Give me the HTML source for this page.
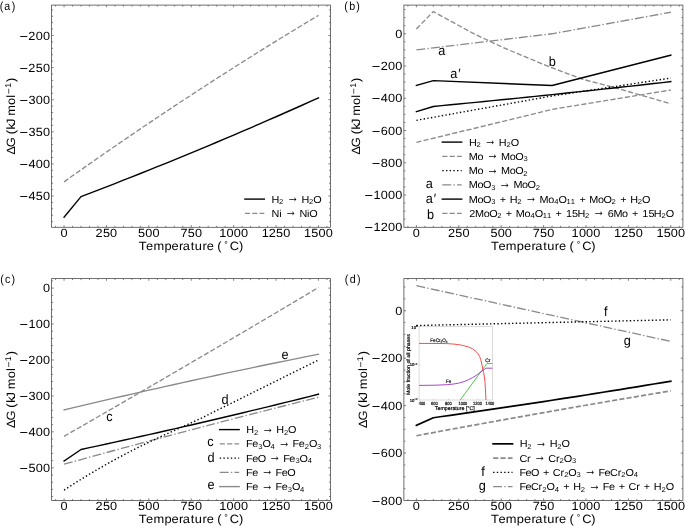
<!DOCTYPE html>
<html><head><meta charset="utf-8"><title>Gibbs free energy vs temperature</title>
<style>
html,body{margin:0;padding:0;background:#fff}
svg{display:block}
svg{will-change:transform}
svg text{font-family:"Liberation Sans",sans-serif;white-space:pre;text-rendering:geometricPrecision}
svg path,svg rect{fill:none}
</style></head>
<body>
<svg width="685" height="526" viewBox="0 0 685 526" xml:space="preserve">
<rect width="685" height="526" style="fill:#fff"/>
<path d="M55.57 227.3v-1.5M55.57 5.1v1.5M64.05 227.3v-2.2M64.05 5.1v2.2M72.53 227.3v-1.5M72.53 5.1v1.5M81.01 227.3v-1.5M81.01 5.1v1.5M89.49 227.3v-1.5M89.49 5.1v1.5M97.97 227.3v-1.5M97.97 5.1v1.5M106.45 227.3v-2.2M106.45 5.1v2.2M114.93 227.3v-1.5M114.93 5.1v1.5M123.41 227.3v-1.5M123.41 5.1v1.5M131.89 227.3v-1.5M131.89 5.1v1.5M140.37 227.3v-1.5M140.37 5.1v1.5M148.85 227.3v-2.2M148.85 5.1v2.2M157.33 227.3v-1.5M157.33 5.1v1.5M165.81 227.3v-1.5M165.81 5.1v1.5M174.29 227.3v-1.5M174.29 5.1v1.5M182.77 227.3v-1.5M182.77 5.1v1.5M191.25 227.3v-2.2M191.25 5.1v2.2M199.73 227.3v-1.5M199.73 5.1v1.5M208.21 227.3v-1.5M208.21 5.1v1.5M216.69 227.3v-1.5M216.69 5.1v1.5M225.17 227.3v-1.5M225.17 5.1v1.5M233.65 227.3v-2.2M233.65 5.1v2.2M242.13 227.3v-1.5M242.13 5.1v1.5M250.61 227.3v-1.5M250.61 5.1v1.5M259.09 227.3v-1.5M259.09 5.1v1.5M267.57 227.3v-1.5M267.57 5.1v1.5M276.05 227.3v-2.2M276.05 5.1v2.2M284.53 227.3v-1.5M284.53 5.1v1.5M293.01 227.3v-1.5M293.01 5.1v1.5M301.49 227.3v-1.5M301.49 5.1v1.5M309.97 227.3v-1.5M309.97 5.1v1.5M318.45 227.3v-2.2M318.45 5.1v2.2M326.93 227.3v-1.5M326.93 5.1v1.5M51.6 221.67h1.5M330.5 221.67h-1.5M51.6 215.25h1.5M330.5 215.25h-1.5M51.6 208.83h1.5M330.5 208.83h-1.5M51.6 202.41h1.5M330.5 202.41h-1.5M51.6 195.99h2.2M330.5 195.99h-2.2M51.6 189.57h1.5M330.5 189.57h-1.5M51.6 183.15h1.5M330.5 183.15h-1.5M51.6 176.73h1.5M330.5 176.73h-1.5M51.6 170.31h1.5M330.5 170.31h-1.5M51.6 163.89h2.2M330.5 163.89h-2.2M51.6 157.47h1.5M330.5 157.47h-1.5M51.6 151.05h1.5M330.5 151.05h-1.5M51.6 144.63h1.5M330.5 144.63h-1.5M51.6 138.21h1.5M330.5 138.21h-1.5M51.6 131.79h2.2M330.5 131.79h-2.2M51.6 125.37h1.5M330.5 125.37h-1.5M51.6 118.95h1.5M330.5 118.95h-1.5M51.6 112.53h1.5M330.5 112.53h-1.5M51.6 106.11h1.5M330.5 106.11h-1.5M51.6 99.69h2.2M330.5 99.69h-2.2M51.6 93.27h1.5M330.5 93.27h-1.5M51.6 86.85h1.5M330.5 86.85h-1.5M51.6 80.43h1.5M330.5 80.43h-1.5M51.6 74.01h1.5M330.5 74.01h-1.5M51.6 67.59h2.2M330.5 67.59h-2.2M51.6 61.17h1.5M330.5 61.17h-1.5M51.6 54.75h1.5M330.5 54.75h-1.5M51.6 48.33h1.5M330.5 48.33h-1.5M51.6 41.91h1.5M330.5 41.91h-1.5M51.6 35.49h2.2M330.5 35.49h-2.2M51.6 29.07h1.5M330.5 29.07h-1.5M51.6 22.65h1.5M330.5 22.65h-1.5M51.6 16.23h1.5M330.5 16.23h-1.5M51.6 9.81h1.5M330.5 9.81h-1.5" stroke="#4d4d4d" stroke-width="0.7"/>
<rect x="51.6" y="5.1" width="278.9" height="222.2" stroke="#4d4d4d" stroke-width="0.8"/>
<text transform="translate(64.05 237.1) scale(1.07 1)" font-size="11.87"><tspan x="-3.3" y="0">0</tspan></text>
<text transform="translate(106.45 237.1) scale(1.07 1)" font-size="11.87"><tspan x="-10.16 -3.34 3.42" y="0">250</tspan></text>
<text transform="translate(148.85 237.1) scale(1.07 1)" font-size="11.87"><tspan x="-10.06 -3.3 3.42" y="0">500</tspan></text>
<text transform="translate(191.25 237.1) scale(1.07 1)" font-size="11.87"><tspan x="-10.04 -3.34 3.42" y="0">750</tspan></text>
<text transform="translate(233.65 237.1) scale(1.07 1)" font-size="11.87"><tspan x="-13.45 -6.66 0.06 6.78" y="0">1000</tspan></text>
<text transform="translate(276.05 237.1) scale(1.07 1)" font-size="11.87"><tspan x="-13.45 -6.8 0.02 6.78" y="0">1250</tspan></text>
<text transform="translate(318.45 237.1) scale(1.07 1)" font-size="11.87"><tspan x="-13.45 -6.7 0.06 6.78" y="0">1500</tspan></text>
<text transform="translate(50 39.54) scale(1.07 1)" font-size="11.87"><tspan x="-28.56" y="0.98" font-size="13.61">−</tspan><tspan x="-20.24 -13.38 -6.66" y="0">200</tspan></text>
<text transform="translate(50 71.64) scale(1.07 1)" font-size="11.87"><tspan x="-28.56" y="0.98" font-size="13.61">−</tspan><tspan x="-20.24 -13.42 -6.66" y="0">250</tspan></text>
<text transform="translate(50 103.74) scale(1.07 1)" font-size="11.87"><tspan x="-28.56" y="0.98" font-size="13.61">−</tspan><tspan x="-20.08 -13.38 -6.66" y="0">300</tspan></text>
<text transform="translate(50 135.84) scale(1.07 1)" font-size="11.87"><tspan x="-28.56" y="0.98" font-size="13.61">−</tspan><tspan x="-20.08 -13.42 -6.66" y="0">350</tspan></text>
<text transform="translate(50 167.94) scale(1.07 1)" font-size="11.87"><tspan x="-28.56" y="0.98" font-size="13.61">−</tspan><tspan x="-20.1 -13.38 -6.66" y="0">400</tspan></text>
<text transform="translate(50 200.04) scale(1.07 1)" font-size="11.87"><tspan x="-28.56" y="0.98" font-size="13.61">−</tspan><tspan x="-20.1 -13.42 -6.66" y="0">450</tspan></text>
<text transform="translate(191.05 249.5) scale(1.07 1)" font-size="12.02"><tspan x="-48.93 -42.02 -35.18 -24.88 -18.22 -11.23 -7.7 -0.26 3.57 10.71 14.69 21.31 24.49" y="0">Temperature (</tspan><tspan x="31.14" y="-2.28" font-size="8.27">°</tspan><tspan x="36.21 44.75" y="0">C)</tspan></text>
<text transform="translate(15.3 116.2) rotate(-90) scale(1.07 1)" font-size="12.02"><tspan x="-36.1 -28.95 -20.14 -16.96 -12.41 -8.24 -3.21 0.43 10.55 17.32" y="0">ΔG (kJ mol</tspan><tspan x="20.56" y="-3.69" font-size="9.65">−</tspan><tspan x="26.51" y="-4.38" font-size="8.42">1</tspan><tspan x="31.97" y="0">)</tspan></text>
<path d="M64.05 181.84 L72.53 175.82 L81.01 169.84 L89.49 163.9 L97.97 157.98 L106.45 152.1 L114.93 146.24 L123.41 140.42 L131.89 134.64 L140.37 128.88 L148.85 123.15 L157.33 117.46 L165.81 111.8 L174.29 106.17 L182.77 100.57 L191.25 95.01 L199.73 89.48 L208.21 83.97 L216.69 78.5 L225.17 73.07 L233.65 67.66 L242.13 62.29 L250.61 56.95 L259.09 51.63 L267.57 46.36 L276.05 41.11 L284.53 35.9 L293.01 30.71 L301.49 25.56 L309.97 20.44 L318.45 15.36" stroke="#8a8a8a" stroke-width="1.32" stroke-linecap="butt" stroke-linejoin="round" stroke-dasharray="5.14 2.22"/>
<path d="M64.05 217.17 L81.01 196.61 L89.49 193.38 L97.97 190.12 L106.45 186.84 L114.93 183.54 L123.41 180.22 L131.89 176.87 L140.37 173.51 L148.85 170.12 L157.33 166.71 L165.81 163.28 L174.29 159.83 L182.77 156.36 L191.25 152.86 L199.73 149.35 L208.21 145.81 L216.69 142.25 L225.17 138.67 L233.65 135.07 L242.13 131.45 L250.61 127.81 L259.09 124.14 L267.57 120.45 L276.05 116.74 L284.53 113.01 L293.01 109.26 L301.49 105.49 L309.97 101.69 L318.45 97.88" stroke="#000" stroke-width="1.4" stroke-linecap="square" stroke-linejoin="round"/>
<path d="M244.9 199.1 L264.3 199.1" stroke="#000" stroke-width="1.4" stroke-linecap="square" stroke-linejoin="round"/>
<g><text transform="translate(271.8 202.55) scale(1.07 1)" font-size="10.15"><tspan x="-0.27" y="0">H</tspan><tspan x="6.83" y="1.59" font-size="7.11">2</tspan><tspan x="11.15 25.12 27.72" y="0">  H</tspan><tspan x="34.83" y="1.59" font-size="7.11">2</tspan><tspan x="38.76" y="0">O</tspan></text><text transform="translate(286.8 202.21) scale(1.24 1.68)" font-size="9.67">→</text></g>
<path d="M244.9 213.35 L264.3 213.35" stroke="#8a8a8a" stroke-width="1.4" stroke-linecap="butt" stroke-linejoin="round" stroke-dasharray="5.14 2.22"/>
<g><text transform="translate(271.8 216.8) scale(1.07 1)" font-size="10.15"><tspan x="-0.29 6.89 9.27 23.24 25.82 33 34.99" y="0">Ni  NiO</tspan></text><text transform="translate(284.79 216.46) scale(1.24 1.68)" font-size="9.67">→</text></g>
<path d="M407.92 227.3v-1.5M407.92 5.1v1.5M416.4 227.3v-2.2M416.4 5.1v2.2M424.88 227.3v-1.5M424.88 5.1v1.5M433.36 227.3v-1.5M433.36 5.1v1.5M441.84 227.3v-1.5M441.84 5.1v1.5M450.32 227.3v-1.5M450.32 5.1v1.5M458.8 227.3v-2.2M458.8 5.1v2.2M467.28 227.3v-1.5M467.28 5.1v1.5M475.76 227.3v-1.5M475.76 5.1v1.5M484.24 227.3v-1.5M484.24 5.1v1.5M492.72 227.3v-1.5M492.72 5.1v1.5M501.2 227.3v-2.2M501.2 5.1v2.2M509.68 227.3v-1.5M509.68 5.1v1.5M518.16 227.3v-1.5M518.16 5.1v1.5M526.64 227.3v-1.5M526.64 5.1v1.5M535.12 227.3v-1.5M535.12 5.1v1.5M543.6 227.3v-2.2M543.6 5.1v2.2M552.08 227.3v-1.5M552.08 5.1v1.5M560.56 227.3v-1.5M560.56 5.1v1.5M569.04 227.3v-1.5M569.04 5.1v1.5M577.52 227.3v-1.5M577.52 5.1v1.5M586 227.3v-2.2M586 5.1v2.2M594.48 227.3v-1.5M594.48 5.1v1.5M602.96 227.3v-1.5M602.96 5.1v1.5M611.44 227.3v-1.5M611.44 5.1v1.5M619.92 227.3v-1.5M619.92 5.1v1.5M628.4 227.3v-2.2M628.4 5.1v2.2M636.88 227.3v-1.5M636.88 5.1v1.5M645.36 227.3v-1.5M645.36 5.1v1.5M653.84 227.3v-1.5M653.84 5.1v1.5M662.32 227.3v-1.5M662.32 5.1v1.5M670.8 227.3v-2.2M670.8 5.1v2.2M679.28 227.3v-1.5M679.28 5.1v1.5M403.9 219.23h1.5M682.9 219.23h-1.5M403.9 211.16h1.5M682.9 211.16h-1.5M403.9 203.1h1.5M682.9 203.1h-1.5M403.9 195.03h2.2M682.9 195.03h-2.2M403.9 186.96h1.5M682.9 186.96h-1.5M403.9 178.9h1.5M682.9 178.9h-1.5M403.9 170.83h1.5M682.9 170.83h-1.5M403.9 162.76h2.2M682.9 162.76h-2.2M403.9 154.7h1.5M682.9 154.7h-1.5M403.9 146.63h1.5M682.9 146.63h-1.5M403.9 138.56h1.5M682.9 138.56h-1.5M403.9 130.5h2.2M682.9 130.5h-2.2M403.9 122.43h1.5M682.9 122.43h-1.5M403.9 114.37h1.5M682.9 114.37h-1.5M403.9 106.3h1.5M682.9 106.3h-1.5M403.9 98.23h2.2M682.9 98.23h-2.2M403.9 90.17h1.5M682.9 90.17h-1.5M403.9 82.1h1.5M682.9 82.1h-1.5M403.9 74.03h1.5M682.9 74.03h-1.5M403.9 65.97h2.2M682.9 65.97h-2.2M403.9 57.9h1.5M682.9 57.9h-1.5M403.9 49.83h1.5M682.9 49.83h-1.5M403.9 41.77h1.5M682.9 41.77h-1.5M403.9 33.7h2.2M682.9 33.7h-2.2M403.9 25.63h1.5M682.9 25.63h-1.5M403.9 17.57h1.5M682.9 17.57h-1.5M403.9 9.5h1.5M682.9 9.5h-1.5" stroke="#4d4d4d" stroke-width="0.7"/>
<rect x="403.9" y="5.1" width="279" height="222.2" stroke="#4d4d4d" stroke-width="0.8"/>
<text transform="translate(416.4 237.1) scale(1.07 1)" font-size="11.87"><tspan x="-3.3" y="0">0</tspan></text>
<text transform="translate(458.8 237.1) scale(1.07 1)" font-size="11.87"><tspan x="-10.16 -3.34 3.42" y="0">250</tspan></text>
<text transform="translate(501.2 237.1) scale(1.07 1)" font-size="11.87"><tspan x="-10.06 -3.3 3.42" y="0">500</tspan></text>
<text transform="translate(543.6 237.1) scale(1.07 1)" font-size="11.87"><tspan x="-10.04 -3.34 3.42" y="0">750</tspan></text>
<text transform="translate(586 237.1) scale(1.07 1)" font-size="11.87"><tspan x="-13.45 -6.66 0.06 6.78" y="0">1000</tspan></text>
<text transform="translate(628.4 237.1) scale(1.07 1)" font-size="11.87"><tspan x="-13.45 -6.8 0.02 6.78" y="0">1250</tspan></text>
<text transform="translate(670.8 237.1) scale(1.07 1)" font-size="11.87"><tspan x="-13.45 -6.7 0.06 6.78" y="0">1500</tspan></text>
<text transform="translate(402.3 37.75) scale(1.07 1)" font-size="11.87"><tspan x="-6.66" y="0">0</tspan></text>
<text transform="translate(402.3 70.02) scale(1.07 1)" font-size="11.87"><tspan x="-28.56" y="0.98" font-size="13.61">−</tspan><tspan x="-20.24 -13.38 -6.66" y="0">200</tspan></text>
<text transform="translate(402.3 102.28) scale(1.07 1)" font-size="11.87"><tspan x="-28.56" y="0.98" font-size="13.61">−</tspan><tspan x="-20.1 -13.38 -6.66" y="0">400</tspan></text>
<text transform="translate(402.3 134.55) scale(1.07 1)" font-size="11.87"><tspan x="-28.56" y="0.98" font-size="13.61">−</tspan><tspan x="-20.1 -13.38 -6.66" y="0">600</tspan></text>
<text transform="translate(402.3 166.81) scale(1.07 1)" font-size="11.87"><tspan x="-28.56" y="0.98" font-size="13.61">−</tspan><tspan x="-20.1 -13.38 -6.66" y="0">800</tspan></text>
<text transform="translate(402.3 199.08) scale(1.07 1)" font-size="11.87"><tspan x="-35.28" y="0.98" font-size="13.61">−</tspan><tspan x="-26.89 -20.1 -13.38 -6.66" y="0">1000</tspan></text>
<text transform="translate(402.3 231.35) scale(1.07 1)" font-size="11.87"><tspan x="-35.28" y="0.98" font-size="13.61">−</tspan><tspan x="-26.89 -20.24 -13.38 -6.66" y="0">1200</tspan></text>
<text transform="translate(543.4 249.5) scale(1.07 1)" font-size="12.02"><tspan x="-48.93 -42.02 -35.18 -24.88 -18.22 -11.23 -7.7 -0.26 3.57 10.71 14.69 21.31 24.49" y="0">Temperature (</tspan><tspan x="31.14" y="-2.28" font-size="8.27">°</tspan><tspan x="36.21 44.75" y="0">C)</tspan></text>
<text transform="translate(360.3 116.2) rotate(-90) scale(1.07 1)" font-size="12.02"><tspan x="-36.1 -28.95 -20.14 -16.96 -12.41 -8.24 -3.21 0.43 10.55 17.32" y="0">ΔG (kJ mol</tspan><tspan x="20.56" y="-3.69" font-size="9.65">−</tspan><tspan x="26.51" y="-4.38" font-size="8.42">1</tspan><tspan x="31.97" y="0">)</tspan></text>
<path d="M416.4 142.44 L552.08 109.36 L670.8 90" stroke="#8a8a8a" stroke-width="1.32" stroke-linecap="butt" stroke-linejoin="round" stroke-dasharray="5.14 2.22"/>
<path d="M416.4 49.91 L552.08 33.78 L670.8 12.24" stroke="#8a8a8a" stroke-width="1.32" stroke-linecap="butt" stroke-linejoin="round" stroke-dasharray="8.9 2.22 1.39 2.22"/>
<path d="M416.4 28.92 L433.36 11.57 L444.55 17.76 L459.14 25.76 L473.72 33.7 L489.84 41.25 L503.07 47.49 L517.65 53.7 L530.03 58.79 L549.2 66.77 L582.78 79.28 L614.15 87.5 L640.44 95.01 L670.8 103.72" stroke="#8a8a8a" stroke-width="1.32" stroke-linecap="butt" stroke-linejoin="round" stroke-dasharray="5.14 2.22"/>
<path d="M416.4 120.33 L552.08 95.97 L670.8 78.07" stroke="#000" stroke-width="1.4" stroke-linecap="butt" stroke-linejoin="round" stroke-dasharray="1.39 2.29"/>
<path d="M416.4 111.62 L433.36 106.46 L441.84 105.64 L450.32 104.82 L458.8 104 L467.28 103.17 L475.76 102.34 L484.24 101.5 L492.72 100.65 L501.2 99.8 L509.68 98.94 L518.16 98.08 L526.64 97.21 L535.12 96.34 L543.6 95.46 L552.08 94.58 L560.56 93.69 L569.04 92.8 L577.52 91.9 L586 90.99 L594.48 90.08 L602.96 89.16 L611.44 88.24 L619.92 87.32 L628.4 86.39 L636.88 85.45 L645.36 84.51 L653.84 83.56 L662.32 82.6 L670.8 81.64" stroke="#000" stroke-width="1.4" stroke-linecap="square" stroke-linejoin="round"/>
<path d="M416.4 85.41 L433.36 80.65 L552.08 85.49 L670.8 55.16" stroke="#000" stroke-width="1.4" stroke-linecap="square" stroke-linejoin="round"/>
<path d="M442.3 142.1 L461.7 142.1" stroke="#000" stroke-width="1.4" stroke-linecap="square" stroke-linejoin="round"/>
<g><text transform="translate(469.2 145.55) scale(1.07 1)" font-size="10.15"><tspan x="-0.27" y="0">H</tspan><tspan x="6.83" y="1.59" font-size="7.11">2</tspan><tspan x="11.15 25.12 27.72" y="0">  H</tspan><tspan x="34.83" y="1.59" font-size="7.11">2</tspan><tspan x="38.76" y="0">O</tspan></text><text transform="translate(484.21 145.21) scale(1.24 1.68)" font-size="9.67">→</text></g>
<path d="M442.3 156.35 L461.7 156.35" stroke="#8a8a8a" stroke-width="1.4" stroke-linecap="butt" stroke-linejoin="round" stroke-dasharray="5.14 2.22"/>
<g><text transform="translate(469.2 159.8) scale(1.07 1)" font-size="10.15"><tspan x="-0.33 7.74 13.33 27.29 29.84 37.91 43.1" y="0">Mo  MoO</tspan><tspan x="50.74" y="1.59" font-size="7.11">3</tspan></text><text transform="translate(486.53 159.46) scale(1.24 1.68)" font-size="9.67">→</text></g>
<path d="M442.3 170.6 L461.7 170.6" stroke="#000" stroke-width="1.4" stroke-linecap="butt" stroke-linejoin="round" stroke-dasharray="1.39 2.29"/>
<g><text transform="translate(469.2 174.05) scale(1.07 1)" font-size="10.15"><tspan x="-0.33 7.74 13.33 27.29 29.84 37.91 43.1" y="0">Mo  MoO</tspan><tspan x="50.64" y="1.59" font-size="7.11">2</tspan></text><text transform="translate(486.53 173.71) scale(1.24 1.68)" font-size="9.67">→</text></g>
<path d="M442.3 184.85 L461.7 184.85" stroke="#8a8a8a" stroke-width="1.4" stroke-linecap="butt" stroke-linejoin="round" stroke-dasharray="8.9 2.22 1.39 2.22"/>
<g><text transform="translate(469.2 188.3) scale(1.07 1)" font-size="10.15"><tspan x="-0.33 7.74 12.94" y="0">MoO</tspan><tspan x="20.57" y="1.59" font-size="7.11">3</tspan><tspan x="24.8 38.76 41.31 49.38 54.57" y="0">  MoO</tspan><tspan x="62.12" y="1.59" font-size="7.11">2</tspan></text><text transform="translate(498.81 187.96) scale(1.24 1.68)" font-size="9.67">→</text></g>
<path d="M442.3 199.1 L461.7 199.1" stroke="#000" stroke-width="1.4" stroke-linecap="square" stroke-linejoin="round"/>
<g><text transform="translate(469.2 202.55) scale(1.07 1)" font-size="10.15"><tspan x="-0.33 7.74 12.94" y="0">MoO</tspan><tspan x="20.57" y="1.59" font-size="7.11">3</tspan><tspan x="24.8 28.5 35.24 37.85" y="0"> + H</tspan><tspan x="44.95" y="1.59" font-size="7.11">2</tspan><tspan x="49.27 63.24 65.78 73.85" y="0">  Mo</tspan><tspan x="79.56" y="1.59" font-size="7.11">4</tspan><tspan x="83.41" y="0">O</tspan><tspan x="90.99 95.01" y="1.59" font-size="7.11">11</tspan><tspan x="99.29 102.99 109.74 112.28 120.35 125.55" y="0"> + MoO</tspan><tspan x="133.09" y="1.59" font-size="7.11">2</tspan><tspan x="137.41 141.1 147.85 150.45" y="0"> + H</tspan><tspan x="157.56" y="1.59" font-size="7.11">2</tspan><tspan x="161.49" y="0">O</tspan></text><text transform="translate(524.99 202.21) scale(1.24 1.68)" font-size="9.67">→</text></g>
<path d="M442.3 213.35 L461.7 213.35" stroke="#8a8a8a" stroke-width="1.4" stroke-linecap="butt" stroke-linejoin="round" stroke-dasharray="5.14 2.22"/>
<g><text transform="translate(469.2 216.8) scale(1.07 1)" font-size="10.15"><tspan x="-0.07 5.42 13.49 18.69" y="0">2MoO</tspan><tspan x="26.23" y="1.59" font-size="7.11">2</tspan><tspan x="30.55 34.25 40.99 43.54 51.61" y="0"> + Mo</tspan><tspan x="57.31" y="1.59" font-size="7.11">4</tspan><tspan x="61.16" y="0">O</tspan><tspan x="68.75 72.77" y="1.59" font-size="7.11">11</tspan><tspan x="77.05 80.74 87.49 90.36 96.13 101.14" y="0"> + 15H</tspan><tspan x="108.25" y="1.59" font-size="7.11">2</tspan><tspan x="112.57 126.53 129.45 134.83 142.9 148.48 152.18 158.93 161.79 167.57 172.58" y="0">  6Mo + 15H</tspan><tspan x="179.68" y="1.59" font-size="7.11">2</tspan><tspan x="183.61" y="0">O</tspan></text><text transform="translate(592.72 216.46) scale(1.24 1.68)" font-size="9.67">→</text></g>
<path d="M55.57 500.55v-1.5M55.57 278.6v1.5M64.05 500.55v-2.2M64.05 278.6v2.2M72.53 500.55v-1.5M72.53 278.6v1.5M81.01 500.55v-1.5M81.01 278.6v1.5M89.49 500.55v-1.5M89.49 278.6v1.5M97.97 500.55v-1.5M97.97 278.6v1.5M106.45 500.55v-2.2M106.45 278.6v2.2M114.93 500.55v-1.5M114.93 278.6v1.5M123.41 500.55v-1.5M123.41 278.6v1.5M131.89 500.55v-1.5M131.89 278.6v1.5M140.37 500.55v-1.5M140.37 278.6v1.5M148.85 500.55v-2.2M148.85 278.6v2.2M157.33 500.55v-1.5M157.33 278.6v1.5M165.81 500.55v-1.5M165.81 278.6v1.5M174.29 500.55v-1.5M174.29 278.6v1.5M182.77 500.55v-1.5M182.77 278.6v1.5M191.25 500.55v-2.2M191.25 278.6v2.2M199.73 500.55v-1.5M199.73 278.6v1.5M208.21 500.55v-1.5M208.21 278.6v1.5M216.69 500.55v-1.5M216.69 278.6v1.5M225.17 500.55v-1.5M225.17 278.6v1.5M233.65 500.55v-2.2M233.65 278.6v2.2M242.13 500.55v-1.5M242.13 278.6v1.5M250.61 500.55v-1.5M250.61 278.6v1.5M259.09 500.55v-1.5M259.09 278.6v1.5M267.57 500.55v-1.5M267.57 278.6v1.5M276.05 500.55v-2.2M276.05 278.6v2.2M284.53 500.55v-1.5M284.53 278.6v1.5M293.01 500.55v-1.5M293.01 278.6v1.5M301.49 500.55v-1.5M301.49 278.6v1.5M309.97 500.55v-1.5M309.97 278.6v1.5M318.45 500.55v-2.2M318.45 278.6v2.2M326.93 500.55v-1.5M326.93 278.6v1.5M51.6 496.55h1.5M330.5 496.55h-1.5M51.6 489.36h1.5M330.5 489.36h-1.5M51.6 482.18h1.5M330.5 482.18h-1.5M51.6 474.99h1.5M330.5 474.99h-1.5M51.6 467.8h2.2M330.5 467.8h-2.2M51.6 460.61h1.5M330.5 460.61h-1.5M51.6 453.42h1.5M330.5 453.42h-1.5M51.6 446.24h1.5M330.5 446.24h-1.5M51.6 439.05h1.5M330.5 439.05h-1.5M51.6 431.86h2.2M330.5 431.86h-2.2M51.6 424.67h1.5M330.5 424.67h-1.5M51.6 417.48h1.5M330.5 417.48h-1.5M51.6 410.3h1.5M330.5 410.3h-1.5M51.6 403.11h1.5M330.5 403.11h-1.5M51.6 395.92h2.2M330.5 395.92h-2.2M51.6 388.73h1.5M330.5 388.73h-1.5M51.6 381.54h1.5M330.5 381.54h-1.5M51.6 374.36h1.5M330.5 374.36h-1.5M51.6 367.17h1.5M330.5 367.17h-1.5M51.6 359.98h2.2M330.5 359.98h-2.2M51.6 352.79h1.5M330.5 352.79h-1.5M51.6 345.6h1.5M330.5 345.6h-1.5M51.6 338.42h1.5M330.5 338.42h-1.5M51.6 331.23h1.5M330.5 331.23h-1.5M51.6 324.04h2.2M330.5 324.04h-2.2M51.6 316.85h1.5M330.5 316.85h-1.5M51.6 309.66h1.5M330.5 309.66h-1.5M51.6 302.48h1.5M330.5 302.48h-1.5M51.6 295.29h1.5M330.5 295.29h-1.5M51.6 288.1h2.2M330.5 288.1h-2.2M51.6 280.91h1.5M330.5 280.91h-1.5" stroke="#4d4d4d" stroke-width="0.7"/>
<rect x="51.6" y="278.6" width="278.9" height="221.95" stroke="#4d4d4d" stroke-width="0.8"/>
<text transform="translate(64.05 510.35) scale(1.07 1)" font-size="11.87"><tspan x="-3.3" y="0">0</tspan></text>
<text transform="translate(106.45 510.35) scale(1.07 1)" font-size="11.87"><tspan x="-10.16 -3.34 3.42" y="0">250</tspan></text>
<text transform="translate(148.85 510.35) scale(1.07 1)" font-size="11.87"><tspan x="-10.06 -3.3 3.42" y="0">500</tspan></text>
<text transform="translate(191.25 510.35) scale(1.07 1)" font-size="11.87"><tspan x="-10.04 -3.34 3.42" y="0">750</tspan></text>
<text transform="translate(233.65 510.35) scale(1.07 1)" font-size="11.87"><tspan x="-13.45 -6.66 0.06 6.78" y="0">1000</tspan></text>
<text transform="translate(276.05 510.35) scale(1.07 1)" font-size="11.87"><tspan x="-13.45 -6.8 0.02 6.78" y="0">1250</tspan></text>
<text transform="translate(318.45 510.35) scale(1.07 1)" font-size="11.87"><tspan x="-13.45 -6.7 0.06 6.78" y="0">1500</tspan></text>
<text transform="translate(50 292.15) scale(1.07 1)" font-size="11.87"><tspan x="-6.66" y="0">0</tspan></text>
<text transform="translate(50 328.09) scale(1.07 1)" font-size="11.87"><tspan x="-28.56" y="0.98" font-size="13.61">−</tspan><tspan x="-20.17 -13.38 -6.66" y="0">100</tspan></text>
<text transform="translate(50 364.03) scale(1.07 1)" font-size="11.87"><tspan x="-28.56" y="0.98" font-size="13.61">−</tspan><tspan x="-20.24 -13.38 -6.66" y="0">200</tspan></text>
<text transform="translate(50 399.97) scale(1.07 1)" font-size="11.87"><tspan x="-28.56" y="0.98" font-size="13.61">−</tspan><tspan x="-20.08 -13.38 -6.66" y="0">300</tspan></text>
<text transform="translate(50 435.91) scale(1.07 1)" font-size="11.87"><tspan x="-28.56" y="0.98" font-size="13.61">−</tspan><tspan x="-20.1 -13.38 -6.66" y="0">400</tspan></text>
<text transform="translate(50 471.85) scale(1.07 1)" font-size="11.87"><tspan x="-28.56" y="0.98" font-size="13.61">−</tspan><tspan x="-20.14 -13.38 -6.66" y="0">500</tspan></text>
<text transform="translate(191.05 522.75) scale(1.07 1)" font-size="12.02"><tspan x="-48.93 -42.02 -35.18 -24.88 -18.22 -11.23 -7.7 -0.26 3.57 10.71 14.69 21.31 24.49" y="0">Temperature (</tspan><tspan x="31.14" y="-2.28" font-size="8.27">°</tspan><tspan x="36.21 44.75" y="0">C)</tspan></text>
<text transform="translate(15.3 389.58) rotate(-90) scale(1.07 1)" font-size="12.02"><tspan x="-36.1 -28.95 -20.14 -16.96 -12.41 -8.24 -3.21 0.43 10.55 17.32" y="0">ΔG (kJ mol</tspan><tspan x="20.56" y="-3.69" font-size="9.65">−</tspan><tspan x="26.51" y="-4.38" font-size="8.42">1</tspan><tspan x="31.97" y="0">)</tspan></text>
<path d="M64.05 436.31 L72.53 431.44 L81.01 426.57 L89.49 421.68 L97.97 416.8 L106.45 411.9 L114.93 407 L123.41 402.09 L131.89 397.18 L140.37 392.26 L148.85 387.34 L157.33 382.4 L165.81 377.47 L174.29 372.52 L182.77 367.57 L191.25 362.61 L199.73 357.65 L208.21 352.68 L216.69 347.7 L225.17 342.72 L233.65 337.73 L242.13 332.74 L250.61 327.74 L259.09 322.73 L267.57 317.72 L276.05 312.7 L284.53 307.67 L293.01 302.64 L301.49 297.6 L309.97 292.55 L318.45 287.5" stroke="#8a8a8a" stroke-width="1.32" stroke-linecap="butt" stroke-linejoin="round" stroke-dasharray="5.14 2.22"/>
<path d="M64.05 464.21 L72.53 461.86 L81.01 459.53 L89.49 457.2 L97.97 454.88 L106.45 452.56 L114.93 450.26 L123.41 447.96 L131.89 445.67 L140.37 443.39 L148.85 441.11 L157.33 438.85 L165.81 436.59 L174.29 434.33 L182.77 432.09 L191.25 429.85 L199.73 427.62 L208.21 425.4 L216.69 423.19 L225.17 420.98 L233.65 418.78 L242.13 416.59 L250.61 414.41 L259.09 412.23 L267.57 410.06 L276.05 407.9 L284.53 405.75 L293.01 403.6 L301.49 401.47 L309.97 399.34 L318.45 397.21" stroke="#8a8a8a" stroke-width="1.32" stroke-linecap="butt" stroke-linejoin="round" stroke-dasharray="8.9 2.22 1.39 2.22"/>
<path d="M64.05 409.93 L72.53 407.91 L81.01 405.89 L89.49 403.89 L97.97 401.89 L106.45 399.91 L114.93 397.95 L123.41 395.99 L131.89 394.04 L140.37 392.11 L148.85 390.19 L157.33 388.28 L165.81 386.38 L174.29 384.49 L182.77 382.62 L191.25 380.75 L199.73 378.9 L208.21 377.06 L216.69 375.24 L225.17 373.42 L233.65 371.61 L242.13 369.82 L250.61 368.04 L259.09 366.27 L267.57 364.51 L276.05 362.77 L284.53 361.03 L293.01 359.31 L301.49 357.6 L309.97 355.9 L318.45 354.21" stroke="#8a8a8a" stroke-width="1.32" stroke-linecap="square" stroke-linejoin="round"/>
<path d="M64.05 490.08 L72.53 484.63 L81.01 479.33 L89.49 474.18 L97.97 469.17 L106.45 464.31 L114.93 459.6 L123.41 455.04 L131.89 450.62 L140.37 446.35 L148.85 442.23 L157.33 438.26 L160.72 436.71 L199.73 418.92 L318.45 359.98" stroke="#000" stroke-width="1.4" stroke-linecap="butt" stroke-linejoin="round" stroke-dasharray="1.39 2.29"/>
<path d="M64.05 460.97 L81.01 449.46 L89.49 447.65 L97.97 445.83 L106.45 443.99 L114.93 442.14 L123.41 440.28 L131.89 438.41 L140.37 436.53 L148.85 434.63 L157.33 432.72 L165.81 430.8 L174.29 428.87 L182.77 426.93 L191.25 424.97 L199.73 423 L208.21 421.02 L216.69 419.03 L225.17 417.03 L233.65 415.01 L242.13 412.98 L250.61 410.94 L259.09 408.89 L267.57 406.83 L276.05 404.75 L284.53 402.66 L293.01 400.56 L301.49 398.45 L309.97 396.32 L318.45 394.19" stroke="#000" stroke-width="1.4" stroke-linecap="square" stroke-linejoin="round"/>
<path d="M219.75 429.6 L239.15 429.6" stroke="#000" stroke-width="1.4" stroke-linecap="square" stroke-linejoin="round"/>
<g><text transform="translate(246.65 433.05) scale(1.07 1)" font-size="10.15"><tspan x="-0.27" y="0">H</tspan><tspan x="6.83" y="1.59" font-size="7.11">2</tspan><tspan x="11.15 25.12 27.72" y="0">  H</tspan><tspan x="34.83" y="1.59" font-size="7.11">2</tspan><tspan x="38.76" y="0">O</tspan></text><text transform="translate(261.65 432.71) scale(1.24 1.68)" font-size="9.67">→</text></g>
<path d="M219.75 443.85 L239.15 443.85" stroke="#8a8a8a" stroke-width="1.4" stroke-linecap="butt" stroke-linejoin="round" stroke-dasharray="5.14 2.22"/>
<g><text transform="translate(246.65 447.3) scale(1.07 1)" font-size="10.15"><tspan x="-0.53 5.17" y="0">Fe</tspan><tspan x="10.89" y="1.59" font-size="7.11">3</tspan><tspan x="14.73" y="0">O</tspan><tspan x="22.35" y="1.59" font-size="7.11">4</tspan><tspan x="26.59 40.56 42.89 48.6" y="0">  Fe</tspan><tspan x="54.22" y="1.59" font-size="7.11">2</tspan><tspan x="58.16" y="0">O</tspan><tspan x="65.79" y="1.59" font-size="7.11">3</tspan></text><text transform="translate(278.17 446.96) scale(1.24 1.68)" font-size="9.67">→</text></g>
<path d="M219.75 458.1 L239.15 458.1" stroke="#000" stroke-width="1.4" stroke-linecap="butt" stroke-linejoin="round" stroke-dasharray="1.39 2.29"/>
<g><text transform="translate(246.65 461.55) scale(1.07 1)" font-size="10.15"><tspan x="-0.53 5.17 10.37 17.87 31.84 34.18 39.88" y="0">FeO  Fe</tspan><tspan x="45.6" y="1.59" font-size="7.11">3</tspan><tspan x="49.44" y="0">O</tspan><tspan x="57.06" y="1.59" font-size="7.11">4</tspan></text><text transform="translate(268.84 461.21) scale(1.24 1.68)" font-size="9.67">→</text></g>
<path d="M219.75 472.35 L239.15 472.35" stroke="#8a8a8a" stroke-width="1.4" stroke-linecap="butt" stroke-linejoin="round" stroke-dasharray="8.9 2.22 1.39 2.22"/>
<g><text transform="translate(246.65 475.8) scale(1.07 1)" font-size="10.15"><tspan x="-0.53 5.17 10.76 24.72 27.06 32.77 37.97" y="0">Fe  FeO</tspan></text><text transform="translate(261.23 475.46) scale(1.24 1.68)" font-size="9.67">→</text></g>
<path d="M219.75 486.6 L239.15 486.6" stroke="#8a8a8a" stroke-width="1.4" stroke-linecap="square" stroke-linejoin="round"/>
<g><text transform="translate(246.65 490.05) scale(1.07 1)" font-size="10.15"><tspan x="-0.53 5.17 10.76 24.72 27.06 32.77" y="0">Fe  Fe</tspan><tspan x="38.49" y="1.59" font-size="7.11">3</tspan><tspan x="42.32" y="0">O</tspan><tspan x="49.95" y="1.59" font-size="7.11">4</tspan></text><text transform="translate(261.23 489.71) scale(1.24 1.68)" font-size="9.67">→</text></g>
<path d="M407.92 500.55v-1.5M407.92 278.6v1.5M416.4 500.55v-2.2M416.4 278.6v2.2M424.88 500.55v-1.5M424.88 278.6v1.5M433.36 500.55v-1.5M433.36 278.6v1.5M441.84 500.55v-1.5M441.84 278.6v1.5M450.32 500.55v-1.5M450.32 278.6v1.5M458.8 500.55v-2.2M458.8 278.6v2.2M467.28 500.55v-1.5M467.28 278.6v1.5M475.76 500.55v-1.5M475.76 278.6v1.5M484.24 500.55v-1.5M484.24 278.6v1.5M492.72 500.55v-1.5M492.72 278.6v1.5M501.2 500.55v-2.2M501.2 278.6v2.2M509.68 500.55v-1.5M509.68 278.6v1.5M518.16 500.55v-1.5M518.16 278.6v1.5M526.64 500.55v-1.5M526.64 278.6v1.5M535.12 500.55v-1.5M535.12 278.6v1.5M543.6 500.55v-2.2M543.6 278.6v2.2M552.08 500.55v-1.5M552.08 278.6v1.5M560.56 500.55v-1.5M560.56 278.6v1.5M569.04 500.55v-1.5M569.04 278.6v1.5M577.52 500.55v-1.5M577.52 278.6v1.5M586 500.55v-2.2M586 278.6v2.2M594.48 500.55v-1.5M594.48 278.6v1.5M602.96 500.55v-1.5M602.96 278.6v1.5M611.44 500.55v-1.5M611.44 278.6v1.5M619.92 500.55v-1.5M619.92 278.6v1.5M628.4 500.55v-2.2M628.4 278.6v2.2M636.88 500.55v-1.5M636.88 278.6v1.5M645.36 500.55v-1.5M645.36 278.6v1.5M653.84 500.55v-1.5M653.84 278.6v1.5M662.32 500.55v-1.5M662.32 278.6v1.5M670.8 500.55v-2.2M670.8 278.6v2.2M679.28 500.55v-1.5M679.28 278.6v1.5M403.9 488.67h1.5M682.9 488.67h-1.5M403.9 476.81h1.5M682.9 476.81h-1.5M403.9 464.94h1.5M682.9 464.94h-1.5M403.9 453.08h2.2M682.9 453.08h-2.2M403.9 441.22h1.5M682.9 441.22h-1.5M403.9 429.35h1.5M682.9 429.35h-1.5M403.9 417.49h1.5M682.9 417.49h-1.5M403.9 405.62h2.2M682.9 405.62h-2.2M403.9 393.75h1.5M682.9 393.75h-1.5M403.9 381.89h1.5M682.9 381.89h-1.5M403.9 370.02h1.5M682.9 370.02h-1.5M403.9 358.16h2.2M682.9 358.16h-2.2M403.9 346.29h1.5M682.9 346.29h-1.5M403.9 334.43h1.5M682.9 334.43h-1.5M403.9 322.56h1.5M682.9 322.56h-1.5M403.9 310.7h2.2M682.9 310.7h-2.2M403.9 298.83h1.5M682.9 298.83h-1.5M403.9 286.97h1.5M682.9 286.97h-1.5" stroke="#4d4d4d" stroke-width="0.7"/>
<rect x="403.9" y="278.6" width="279" height="221.95" stroke="#4d4d4d" stroke-width="0.8"/>
<text transform="translate(416.4 510.35) scale(1.07 1)" font-size="11.87"><tspan x="-3.3" y="0">0</tspan></text>
<text transform="translate(458.8 510.35) scale(1.07 1)" font-size="11.87"><tspan x="-10.16 -3.34 3.42" y="0">250</tspan></text>
<text transform="translate(501.2 510.35) scale(1.07 1)" font-size="11.87"><tspan x="-10.06 -3.3 3.42" y="0">500</tspan></text>
<text transform="translate(543.6 510.35) scale(1.07 1)" font-size="11.87"><tspan x="-10.04 -3.34 3.42" y="0">750</tspan></text>
<text transform="translate(586 510.35) scale(1.07 1)" font-size="11.87"><tspan x="-13.45 -6.66 0.06 6.78" y="0">1000</tspan></text>
<text transform="translate(628.4 510.35) scale(1.07 1)" font-size="11.87"><tspan x="-13.45 -6.8 0.02 6.78" y="0">1250</tspan></text>
<text transform="translate(670.8 510.35) scale(1.07 1)" font-size="11.87"><tspan x="-13.45 -6.7 0.06 6.78" y="0">1500</tspan></text>
<text transform="translate(402.3 314.75) scale(1.07 1)" font-size="11.87"><tspan x="-6.66" y="0">0</tspan></text>
<text transform="translate(402.3 362.21) scale(1.07 1)" font-size="11.87"><tspan x="-28.56" y="0.98" font-size="13.61">−</tspan><tspan x="-20.24 -13.38 -6.66" y="0">200</tspan></text>
<text transform="translate(402.3 409.67) scale(1.07 1)" font-size="11.87"><tspan x="-28.56" y="0.98" font-size="13.61">−</tspan><tspan x="-20.1 -13.38 -6.66" y="0">400</tspan></text>
<text transform="translate(402.3 457.13) scale(1.07 1)" font-size="11.87"><tspan x="-28.56" y="0.98" font-size="13.61">−</tspan><tspan x="-20.1 -13.38 -6.66" y="0">600</tspan></text>
<text transform="translate(402.3 504.59) scale(1.07 1)" font-size="11.87"><tspan x="-28.56" y="0.98" font-size="13.61">−</tspan><tspan x="-20.1 -13.38 -6.66" y="0">800</tspan></text>
<text transform="translate(543.4 522.75) scale(1.07 1)" font-size="12.02"><tspan x="-48.93 -42.02 -35.18 -24.88 -18.22 -11.23 -7.7 -0.26 3.57 10.71 14.69 21.31 24.49" y="0">Temperature (</tspan><tspan x="31.14" y="-2.28" font-size="8.27">°</tspan><tspan x="36.21 44.75" y="0">C)</tspan></text>
<text transform="translate(367.3 389.58) rotate(-90) scale(1.07 1)" font-size="12.02"><tspan x="-36.1 -28.95 -20.14 -16.96 -12.41 -8.24 -3.21 0.43 10.55 17.32" y="0">ΔG (kJ mol</tspan><tspan x="20.56" y="-3.69" font-size="9.65">−</tspan><tspan x="26.51" y="-4.38" font-size="8.42">1</tspan><tspan x="31.97" y="0">)</tspan></text>
<path d="M416.4 435.73 L424.88 434.15 L433.36 432.58 L441.84 431.01 L450.32 429.45 L458.8 427.89 L467.28 426.34 L475.76 424.8 L484.24 423.26 L492.72 421.72 L501.2 420.19 L509.68 418.67 L518.16 417.16 L526.64 415.65 L535.12 414.14 L543.6 412.64 L552.08 411.15 L560.56 409.66 L569.04 408.18 L577.52 406.71 L586 405.24 L594.48 403.77 L602.96 402.31 L611.44 400.86 L619.92 399.42 L628.4 397.98 L636.88 396.54 L645.36 395.11 L653.84 393.69 L662.32 392.27 L670.8 390.86" stroke="#8a8a8a" stroke-width="1.7" stroke-linecap="butt" stroke-linejoin="round" stroke-dasharray="5.14 2.22"/>
<path d="M416.4 285.71 L670.8 341.41" stroke="#8a8a8a" stroke-width="1.32" stroke-linecap="butt" stroke-linejoin="round" stroke-dasharray="8.9 2.22 1.39 2.22"/>
<path d="M416.4 325.53 L670.8 319.84" stroke="#000" stroke-width="1.4" stroke-linecap="butt" stroke-linejoin="round" stroke-dasharray="1.39 2.29"/>
<path d="M416.4 425.32 L433.36 417.72 L441.84 416.52 L450.32 415.32 L458.8 414.1 L467.28 412.88 L475.76 411.66 L484.24 410.42 L492.72 409.18 L501.2 407.92 L509.68 406.66 L518.16 405.4 L526.64 404.12 L535.12 402.84 L543.6 401.55 L552.08 400.25 L560.56 398.94 L569.04 397.62 L577.52 396.3 L586 394.97 L594.48 393.63 L602.96 392.28 L611.44 390.93 L619.92 389.57 L628.4 388.19 L636.88 386.82 L645.36 385.43 L653.84 384.03 L662.32 382.63 L670.8 381.22" stroke="#000" stroke-width="1.7" stroke-linecap="square" stroke-linejoin="round"/>
<path d="M493.13 443.85 L512.53 443.85" stroke="#000" stroke-width="1.7" stroke-linecap="square" stroke-linejoin="round"/>
<g><text transform="translate(520.03 447.3) scale(1.07 1)" font-size="10.15"><tspan x="-0.27" y="0">H</tspan><tspan x="6.83" y="1.59" font-size="7.11">2</tspan><tspan x="11.15 25.12 27.72" y="0">  H</tspan><tspan x="34.83" y="1.59" font-size="7.11">2</tspan><tspan x="38.76" y="0">O</tspan></text><text transform="translate(535.04 446.96) scale(1.24 1.68)" font-size="9.67">→</text></g>
<path d="M493.13 458.1 L512.53 458.1" stroke="#8a8a8a" stroke-width="1.7" stroke-linecap="butt" stroke-linejoin="round" stroke-dasharray="5.14 2.22"/>
<g><text transform="translate(520.03 461.55) scale(1.07 1)" font-size="10.15"><tspan x="-0.57 6.64 10.03 23.99 26.3 33.5" y="0">Cr  Cr</tspan><tspan x="36.93" y="1.59" font-size="7.11">2</tspan><tspan x="40.86" y="0">O</tspan><tspan x="48.49" y="1.59" font-size="7.11">3</tspan></text><text transform="translate(533.83 461.21) scale(1.24 1.68)" font-size="9.67">→</text></g>
<path d="M493.13 472.35 L512.53 472.35" stroke="#000" stroke-width="1.4" stroke-linecap="butt" stroke-linejoin="round" stroke-dasharray="1.39 2.29"/>
<g><text transform="translate(520.03 475.8) scale(1.07 1)" font-size="10.15"><tspan x="-0.53 5.17 10.37 17.87 21.57 28.32 30.62 37.82" y="0">FeO + Cr</tspan><tspan x="41.25" y="1.59" font-size="7.11">2</tspan><tspan x="45.18" y="0">O</tspan><tspan x="52.82" y="1.59" font-size="7.11">3</tspan><tspan x="57.05 71.01 73.35 79.06 84.08 91.28" y="0">  FeCr</tspan><tspan x="94.71" y="1.59" font-size="7.11">2</tspan><tspan x="98.64" y="0">O</tspan><tspan x="106.26" y="1.59" font-size="7.11">4</tspan></text><text transform="translate(584.14 475.46) scale(1.24 1.68)" font-size="9.67">→</text></g>
<path d="M493.13 486.6 L512.53 486.6" stroke="#8a8a8a" stroke-width="1.4" stroke-linecap="butt" stroke-linejoin="round" stroke-dasharray="8.9 2.22 1.39 2.22"/>
<g><text transform="translate(520.03 490.05) scale(1.07 1)" font-size="10.15"><tspan x="-0.53 5.17 10.19 17.39" y="0">FeCr</tspan><tspan x="20.82" y="1.59" font-size="7.11">2</tspan><tspan x="24.75" y="0">O</tspan><tspan x="32.38" y="1.59" font-size="7.11">4</tspan><tspan x="36.61 40.31 47.06 49.66" y="0"> + H</tspan><tspan x="56.77" y="1.59" font-size="7.11">2</tspan><tspan x="61.09 75.05 77.39 83.1 88.68 92.38 99.13 101.44 108.64 112.03 115.72 122.47 125.07" y="0">  Fe + Cr + H</tspan><tspan x="132.18" y="1.59" font-size="7.11">2</tspan><tspan x="136.11" y="0">O</tspan></text><text transform="translate(588.47 489.71) scale(1.24 1.68)" font-size="9.67">→</text></g>
<text transform="translate(-0.3 9.65) scale(0.9 1)" font-size="11.87"><tspan x="0.18 5 13.36" y="0">(a)</tspan></text>
<text transform="translate(344.1 9.65) scale(0.9 1)" font-size="11.87"><tspan x="0.18 5.68 13.64" y="0">(b)</tspan></text>
<text transform="translate(0.2 282.65) scale(0.9 1)" font-size="11.87"><tspan x="0.18 5.25 12.57" y="0">(c)</tspan></text>
<text transform="translate(344.7 282.65) scale(0.9 1)" font-size="11.87"><tspan x="0.18 5.49 13.64" y="0">(d)</tspan></text>
<text transform="translate(438.3 55.2) scale(0.94 1)" font-size="13.52"><tspan x="-0.02" y="0">a</tspan></text>
<text transform="translate(450.2 77.6) scale(0.94 1)" font-size="13.52"><tspan x="-0.02 8.6" y="0">a′</tspan></text>
<text transform="translate(548 66.3) scale(0.94 1)" font-size="13.52"><tspan x="0.73" y="0">b</tspan></text>
<text transform="translate(106 421) scale(0.94 1)" font-size="13.52"><tspan x="0.27" y="0">c</tspan></text>
<text transform="translate(221 404) scale(0.94 1)" font-size="13.52"><tspan x="0.54" y="0">d</tspan></text>
<text transform="translate(281 359.3) scale(0.94 1)" font-size="13.52"><tspan x="0.52" y="0">e</tspan></text>
<text transform="translate(603.4 316.3) scale(0.94 1)" font-size="13.52"><tspan x="0.74" y="0">f</tspan></text>
<text transform="translate(623.3 345) scale(0.94 1)" font-size="13.52"><tspan x="0.54" y="0">g</tspan></text>
<text transform="translate(425.7 188) scale(0.94 1)" font-size="13.52"><tspan x="-0.02" y="0">a</tspan></text>
<text transform="translate(425.7 202.8) scale(0.94 1)" font-size="13.52"><tspan x="-0.02 8.6" y="0">a′</tspan></text>
<text transform="translate(426.3 218.6) scale(0.94 1)" font-size="13.52"><tspan x="0.73" y="0">b</tspan></text>
<text transform="translate(206.9 446.1) scale(0.94 1)" font-size="13.52"><tspan x="0.27" y="0">c</tspan></text>
<text transform="translate(206.9 461.6) scale(0.94 1)" font-size="13.52"><tspan x="0.54" y="0">d</tspan></text>
<text transform="translate(206.9 489.1) scale(0.94 1)" font-size="13.52"><tspan x="0.52" y="0">e</tspan></text>
<text transform="translate(480.6 476) scale(0.94 1)" font-size="13.52"><tspan x="0.74" y="0">f</tspan></text>
<text transform="translate(478.3 489.8) scale(0.94 1)" font-size="13.52"><tspan x="0.54" y="0">g</tspan></text>
<g id="inset">
<rect x="419.05" y="326.6" width="73.45" height="73.4" style="fill:#fff" stroke="#c4c4c4" stroke-width="0.6"/>
<path d="M433.74 400v-1M448.43 400v-1M463.12 400v-1M477.81 400v-1M419.05 326.6h1M419.05 364.8h1M419.05 400h1" stroke="#999" stroke-width="0.4"/>
<path d="M460.2 400 L484.75 366.5 L485.8 365 L487 363.6 L492.5 363.5" stroke="#3cc13c" stroke-width="0.9" stroke-linejoin="round"/>
<path d="M419.05 385.4 L435 385.2 L446.8 384.7 L453 384.1 L458.5 383.2 L464 381.6 L468.7 379.6 L472.5 377.7 L476 375.5 L480 372.6 L483.3 370.1 L485 368.9 L486.2 368.2 L492.5 368.2" stroke="#9a35c4" stroke-width="0.9" stroke-linejoin="round"/>
<path d="M419.05 343.4 L440 343.5 L446.8 343.6 L454 344.1 L461.4 345.1 L468.7 347 L472.5 348.8 L476 351.4 L478 353.8 L479.6 356.5 L480.8 359.8 L481.8 364 L483 369.8 L483.7 372.8 L484.4 377 L485 382.5 L485.5 390 L485.9 400" stroke="#f23a3a" stroke-width="0.9" stroke-linejoin="round"/>
<text class="in" x="430.3" y="341.9" font-size="4.9" fill="#000" stroke="#000" stroke-width="0.18" textLength="17.3" lengthAdjust="spacingAndGlyphs">FeCr<tspan font-size="3.3" dy="0.7">2</tspan><tspan dy="-0.7">O</tspan><tspan font-size="3.3" dy="0.7">4</tspan></text>
<text class="in" x="446" y="382.8" font-size="4.9" fill="#000" stroke="#000" stroke-width="0.18" textLength="5.2" lengthAdjust="spacingAndGlyphs">Fe</text>
<text class="in" x="485.2" y="362.3" font-size="4.9" fill="#000" stroke="#000" stroke-width="0.18" textLength="5.1" lengthAdjust="spacingAndGlyphs">Cr</text>
<text class="in" x="422" y="404.9" font-size="4.6" fill="#000" stroke="#000" stroke-width="0.18" text-anchor="middle" textLength="6.6" lengthAdjust="spacingAndGlyphs">400</text>
<text class="in" x="434.4" y="404.9" font-size="4.6" fill="#000" stroke="#000" stroke-width="0.18" text-anchor="middle" textLength="6.6" lengthAdjust="spacingAndGlyphs">600</text>
<text class="in" x="448.3" y="404.9" font-size="4.6" fill="#000" stroke="#000" stroke-width="0.18" text-anchor="middle" textLength="6.6" lengthAdjust="spacingAndGlyphs">800</text>
<text class="in" x="462.9" y="404.9" font-size="4.6" fill="#000" stroke="#000" stroke-width="0.18" text-anchor="middle" textLength="8.8" lengthAdjust="spacingAndGlyphs">1000</text>
<text class="in" x="477.5" y="404.9" font-size="4.6" fill="#000" stroke="#000" stroke-width="0.18" text-anchor="middle" textLength="8.8" lengthAdjust="spacingAndGlyphs">1200</text>
<text class="in" x="489.9" y="404.9" font-size="4.6" fill="#000" stroke="#000" stroke-width="0.18" text-anchor="middle" textLength="8.8" lengthAdjust="spacingAndGlyphs">1400</text>
<text class="in" x="454.8" y="410.3" font-size="5.4" fill="#000" stroke="#000" stroke-width="0.18" text-anchor="middle" textLength="40" lengthAdjust="spacingAndGlyphs">Temperature [°C]</text>
<text class="in" transform="translate(410.1 364.6) rotate(-90)" font-size="5" fill="#000" stroke="#000" stroke-width="0.18" text-anchor="middle" textLength="61" lengthAdjust="spacingAndGlyphs">Mole fraction of all phases</text>
<text class="in" x="417.6" y="328.6" font-size="4.2" fill="#000" stroke="#000" stroke-width="0.18" text-anchor="end">10<tspan font-size="2.9" dy="-1.7">0</tspan></text>
<text class="in" x="417.6" y="366.3" font-size="4.2" fill="#000" stroke="#000" stroke-width="0.18" text-anchor="end">10<tspan font-size="2.9" dy="-1.7">−1</tspan></text>
<text class="in" x="417.6" y="401.6" font-size="4.2" fill="#000" stroke="#000" stroke-width="0.18" text-anchor="end">10<tspan font-size="2.9" dy="-1.7">−2</tspan></text>
</g>
</svg>
</body></html>
